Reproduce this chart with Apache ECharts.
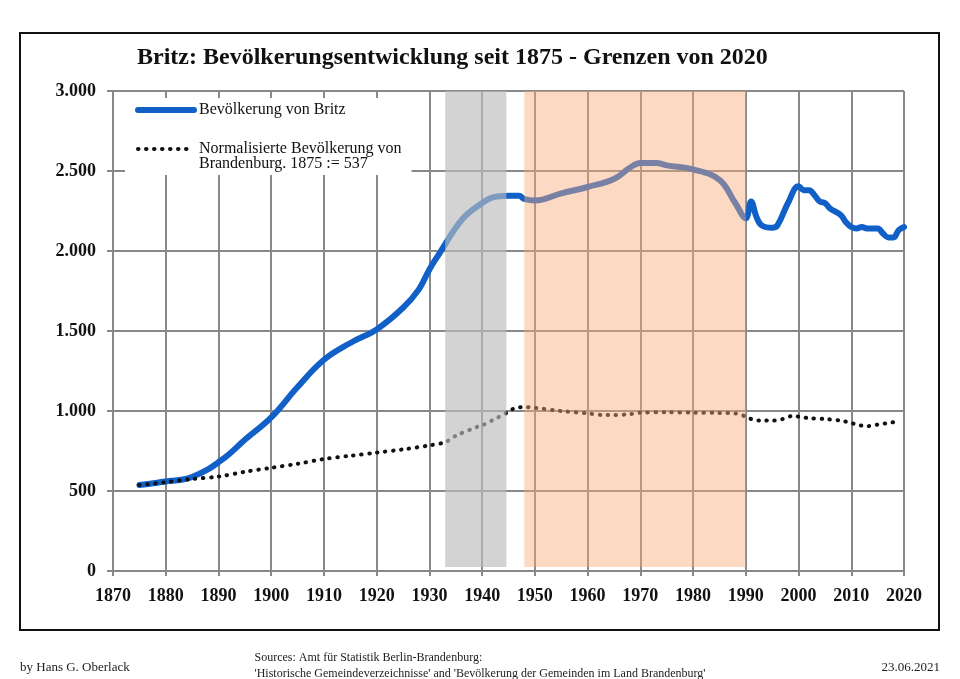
<!DOCTYPE html>
<html>
<head>
<meta charset="utf-8">
<script src="https://cdn.jsdelivr.net/npm/echarts@6/dist/echarts.min.js"></script>
<style>
html, body { margin: 0; padding: 0; background: #fff; }
#chart { width: 960px; height: 679px; }
</style>
</head>
<body>
<div id="chart"></div>
<script>
// Einwohner Britz (Jahr, Wert)
var britzYears = [1875, 1878, 1880, 1883, 1885, 1888, 1890, 1892, 1895, 1900, 1905, 1910, 1915, 1920, 1925, 1928, 1930, 1932, 1935, 1937, 1940, 1942, 1945, 1947, 1948, 1950, 1955, 1960, 1965, 1968, 1970, 1973, 1975, 1980, 1985, 1988, 1990, 1991, 1992, 1993, 1995, 1996, 1998, 2000, 2001, 2002, 2003, 2004, 2005, 2006, 2008, 2009, 2010, 2011, 2012, 2013, 2015, 2016, 2017, 2018, 2019, 2020];
var britzValues = [537, 550, 560, 570, 588, 635, 680, 730, 820, 960, 1150, 1320, 1425, 1510, 1645, 1760, 1885, 1990, 2145, 2225, 2300, 2335, 2345, 2345, 2325, 2315, 2360, 2400, 2450, 2520, 2550, 2550, 2535, 2510, 2445, 2300, 2205, 2310, 2215, 2160, 2145, 2160, 2300, 2405, 2380, 2380, 2350, 2310, 2300, 2265, 2225, 2180, 2150, 2140, 2150, 2140, 2140, 2110, 2085, 2085, 2130, 2150];

// normalisierte Bevoelkerung Brandenburg, 1875 := 537
var bbYears = [1875, 1880, 1885, 1890, 1895, 1900, 1905, 1910, 1915, 1920, 1925, 1930, 1933, 1935, 1939, 1940, 1943, 1945, 1946, 1948, 1950, 1955, 1960, 1963, 1965, 1968, 1970, 1975, 1980, 1985, 1988, 1990, 1991, 1993, 1995, 1997, 1999, 2000, 2002, 2005, 2008, 2010, 2011, 2013, 2015, 2017, 2018];
var bbValues = [537, 555, 575, 590, 620, 645, 670, 700, 720, 740, 760, 785, 805, 845, 900, 910, 960, 995, 1015, 1025, 1020, 1000, 985, 975, 975, 980, 990, 992, 990, 988, 985, 965, 950, 940, 940, 950, 970, 965, 955, 950, 940, 925, 915, 905, 915, 925, 930];

// Zeitraeume: NS-Zeit und DDR
var nsPeriod = [1933, 1944.6];
var ddrPeriod = [1948, 1990];

var britzName = 'Bevölkerung von Britz';
var bbName = 'Normalisierte Bevölkerung von\nBrandenburg. 1875 := 537';

var serifFont = '"Liberation Serif", "DejaVu Serif", serif';

function zip(xs, ys) {
    var out = [];
    for (var i = 0; i < xs.length; i++) out.push([xs[i], ys[i]]);
    return out;
}

function fmtThousands(v) {
    return String(v).replace(/\B(?=(\d{3})+(?!\d))/g, '.');
}

var myChart = echarts.init(document.getElementById('chart'));

myChart.setOption({
    backgroundColor: '#fff',
    animation: false,
    title: {
        text: 'Britz: Bevölkerungsentwicklung seit 1875 - Grenzen von 2020',
        left: 137,
        top: 46,
        padding: 0,
        textStyle: { fontFamily: serifFont, fontWeight: 'bold', fontSize: 24, color: '#111' }
    },
    legend: {
        orient: 'vertical',
        left: 125,
        top: 98,
        padding: [4, 10, 3, 10],
        itemGap: 8,
        itemWidth: 56,
        itemHeight: 14,
        backgroundColor: '#fff',
        textStyle: { fontFamily: serifFont, fontSize: 16, color: '#111', lineHeight: 15 },
        itemStyle: { color: 'rgba(0,0,0,0)', borderWidth: 0, opacity: 0 },
        // Leerzeile vorne, damit das Symbol auf Hoehe der ersten Textzeile steht
        formatter: function (name) {
            return name === bbName ? '\n' + name : name;
        },
        data: [
            { name: britzName, lineStyle: { width: 6, cap: 'round', color: '#1060c8' } },
            { name: bbName, lineStyle: { width: 4, cap: 'round', type: [0.5, 7.5], color: '#111' } }
        ]
    },
    grid: { left: 113, right: 56, top: 91, bottom: 108, containLabel: false },
    xAxis: {
        type: 'value',
        min: 1870,
        max: 2020,
        interval: 10,
        axisLine: { show: true, lineStyle: { color: '#888', width: 2 } },
        axisTick: { show: true, length: 5, lineStyle: { color: '#888', width: 2 } },
        splitLine: { show: true, lineStyle: { color: '#888', width: 2 } },
        axisLabel: {
            margin: 16, fontFamily: serifFont, fontWeight: 'bold', fontSize: 18, color: '#111',
            formatter: function (v) { return String(v); }
        }
    },
    yAxis: {
        type: 'value',
        min: 0,
        max: 3000,
        interval: 500,
        axisLine: { show: false },
        axisTick: { show: true, length: 6, lineStyle: { color: '#888', width: 2 } },
        splitLine: { show: true, lineStyle: { color: '#888', width: 2 } },
        axisLabel: {
            margin: 17,
            fontFamily: serifFont, fontWeight: 'bold', fontSize: 18, color: '#111',
            formatter: function (v) { return fmtThousands(v); }
        }
    },
    series: [
        {
            name: britzName,
            type: 'line',
            data: zip(britzYears, britzValues),
            symbol: 'none',
            smooth: 0.4,
            z: 2,
            lineStyle: { color: '#1060c8', width: 6, cap: 'round', join: 'round' },
            itemStyle: { color: '#1060c8' }
        },
        {
            name: bbName,
            type: 'line',
            data: zip(bbYears, bbValues),
            symbol: 'none',
            smooth: 0.3,
            z: 2,
            lineStyle: { color: '#111', width: 4, type: [0.5, 7.5], cap: 'round' },
            itemStyle: { color: '#111' }
        },
        {
            name: 'Zeitraeume',
            type: 'line',
            data: [],
            silent: true,
            z: 3,
            markArea: {
                silent: true,
                z: 5,
                data: [
                    [{ xAxis: nsPeriod[0], yAxis: 25, itemStyle: { color: '#bbbbbb', opacity: 0.65 } },
                     { xAxis: nsPeriod[1], yAxis: 3020 }],
                    [{ xAxis: ddrPeriod[0], yAxis: 25, itemStyle: { color: '#f8aa78', opacity: 0.45 } },
                     { xAxis: ddrPeriod[1], yAxis: 3020 }]
                ]
            }
        }
    ],
    graphic: [
        {
            type: 'rect',
            shape: { x: 20, y: 33, width: 919, height: 597 },
            style: { fill: 'none', stroke: '#111', lineWidth: 2 },
            silent: true
        },
        {
            type: 'text', left: 20, top: 661,
            style: { text: 'by Hans G. Oberlack', font: '13px ' + serifFont, fill: '#222' }
        },
        {
            type: 'text', left: 'center', top: 650,
            style: {
                text: "Sources: Amt für Statistik Berlin-Brandenburg:\n'Historische Gemeindeverzeichnisse' and 'Bevölkerung der Gemeinden im Land Brandenburg'",
                font: '12px ' + serifFont, fill: '#222', align: 'center', lineHeight: 16
            }
        },
        {
            type: 'text', right: 20, top: 661,
            style: { text: '23.06.2021', font: '13px ' + serifFont, fill: '#222' }
        }
    ]
});
</script>
</body>
</html>
